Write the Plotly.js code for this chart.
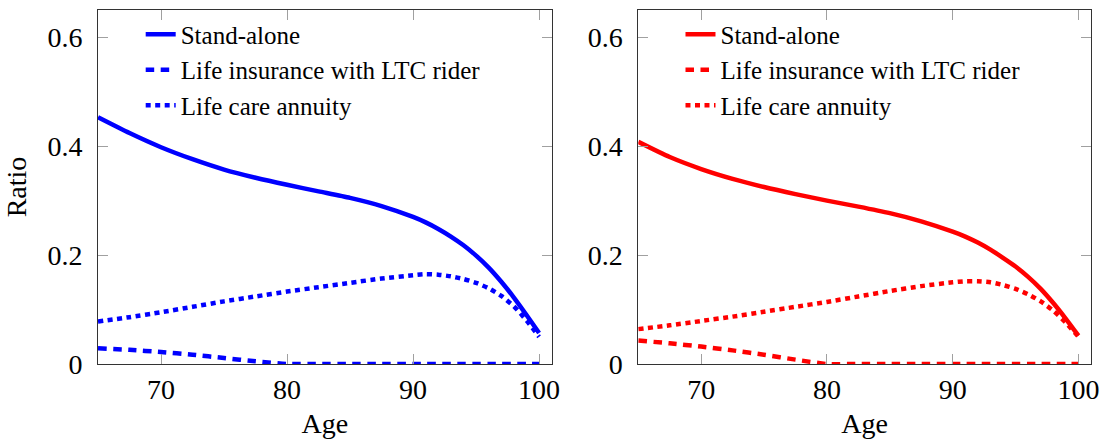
<!DOCTYPE html>
<html>
<head>
<meta charset="utf-8">
<script src="https://cdn.plot.ly/plotly-3.0.1.min.js"></script>
<style>
html,body{margin:0;padding:0;background:#fff;}
#chart{width:1101px;height:439px;}
#chart svg text{font-family:"Liberation Serif" !important;}
</style>
</head>
<body>
<div id="chart"></div>
<script>
const ages = [65, 67.5, 70, 72.5, 75, 77.5, 80, 82.5, 85, 87.5, 90, 91, 92, 93, 94, 95, 96, 97, 98, 99, 100];

const seriesNames = ["Stand-alone", "Life insurance with LTC rider", "Life care annuity"];

// Left panel (blue)
const leftStandAlone = [0.453, 0.424, 0.398, 0.376, 0.357, 0.342, 0.329, 0.317, 0.305, 0.290, 0.270, 0.260, 0.248, 0.234, 0.218, 0.199, 0.177, 0.151, 0.122, 0.090, 0.057];
const leftLTCRider   = [0.029, 0.026, 0.022, 0.017, 0.011, 0.005, 0.000, 0.000, 0.000, 0.000, 0.000, 0.000, 0.000, 0.000, 0.000, 0.000, 0.000, 0.000, 0.000, 0.000, 0.000];
const leftAnnuity    = [0.078, 0.086, 0.095, 0.105, 0.115, 0.124, 0.133, 0.141, 0.149, 0.157, 0.163, 0.165, 0.164, 0.161, 0.156, 0.149, 0.139, 0.125, 0.106, 0.080, 0.050];

// Right panel (red)
const rightStandAlone = [0.408, 0.380, 0.358, 0.340, 0.325, 0.312, 0.300, 0.289, 0.277, 0.262, 0.243, 0.234, 0.223, 0.210, 0.195, 0.179, 0.160, 0.138, 0.112, 0.083, 0.052];
const rightLTCRider   = [0.043, 0.038, 0.032, 0.025, 0.017, 0.008, 0.000, 0.000, 0.000, 0.000, 0.000, 0.000, 0.000, 0.000, 0.000, 0.000, 0.000, 0.000, 0.000, 0.000, 0.000];
const rightAnnuity    = [0.064, 0.071, 0.079, 0.087, 0.096, 0.105, 0.114, 0.124, 0.134, 0.143, 0.150, 0.152, 0.152, 0.150, 0.145, 0.138, 0.128, 0.115, 0.098, 0.076, 0.050];

const xTickVals = [70, 80, 90, 100];
const yTickVals = [0, 0.2, 0.4, 0.6];
const yTickText = ["0", "0.2", "0.4", "0.6"];

const FONT = "Liberation Serif";
const dashStyles = ["solid", "8.5px,6.5px", "5px,4.5px"];
const LW = 4.5;

function mk(y, i, color, xa, ya, legend) {
  return {
    x: ages, y: y, type: "scatter", mode: "lines",
    name: seriesNames[i], xaxis: xa, yaxis: ya, legend: legend,
    line: {color: color, width: LW, dash: dashStyles[i], shape: "spline", smoothing: 0.6}
  };
}

const data = [
  mk(leftStandAlone, 0, "#0000ff", "x", "y", "legend"),
  mk(leftLTCRider, 1, "#0000ff", "x", "y", "legend"),
  mk(leftAnnuity, 2, "#0000ff", "x", "y", "legend"),
  mk(rightStandAlone, 0, "#ff0000", "x2", "y2", "legend2"),
  mk(rightLTCRider, 1, "#ff0000", "x2", "y2", "legend2"),
  mk(rightAnnuity, 2, "#ff0000", "x2", "y2", "legend2")
];

function axisBase() {
  return {
    showline: true, linecolor: "#333", linewidth: 1, mirror: "ticks",
    ticks: "inside", ticklen: 10, tickcolor: "#a0a0a0", tickwidth: 1,
    showgrid: false, zeroline: false,
    tickfont: {family: FONT, size: 28, color: "#000"}
  };
}

function xAxis(domain, anchor) {
  return Object.assign(axisBase(), {
    domain: domain, range: [65, 101], tickvals: xTickVals, anchor: anchor,
    title: {text: "Age", font: {family: FONT, size: 28, color: "#000"}, standoff: 12}
  });
}
function yAxis(anchor, withTitle) {
  const a = Object.assign(axisBase(), {
    domain: [0, 1], range: [0, 0.65], tickvals: yTickVals, ticktext: yTickText,
    anchor: anchor, ticklabelstandoff: 9
  });
  if (withTitle) a.title = {text: "Ratio", font: {family: FONT, size: 28, color: "#000"}, standoff: 12};
  return a;
}

function legendBox(x) {
  return {
    x: x, xanchor: "left", yanchor: "top", y: 0.996,
    bgcolor: "rgba(255,255,255,0)", borderwidth: 0,
    font: {family: FONT, size: 25, color: "#000"},
    tracegroupgap: 0
  };
}

const layout = {
  width: 1101, height: 439,
  margin: {l: 98, r: 10, t: 10, b: 75},
  paper_bgcolor: "#fff", plot_bgcolor: "#fff",
  font: {family: FONT, size: 28, color: "#000"},
  showlegend: true,
  xaxis: xAxis([0, 0.4569], "y"),
  yaxis: yAxis("x", true),
  xaxis2: xAxis([0.5441, 1], "y2"),
  yaxis2: yAxis("x2", false),
  legend: legendBox(0.043),
  legend2: legendBox(0.5866)
};

Plotly.newPlot("chart", data, layout, {staticPlot: true}).then(function () {
  document.querySelectorAll("#chart text").forEach(function (el) {
    el.style.setProperty("font-family", "\"Liberation Serif\"", "important");
  });
});
</script>
</body>
</html>
